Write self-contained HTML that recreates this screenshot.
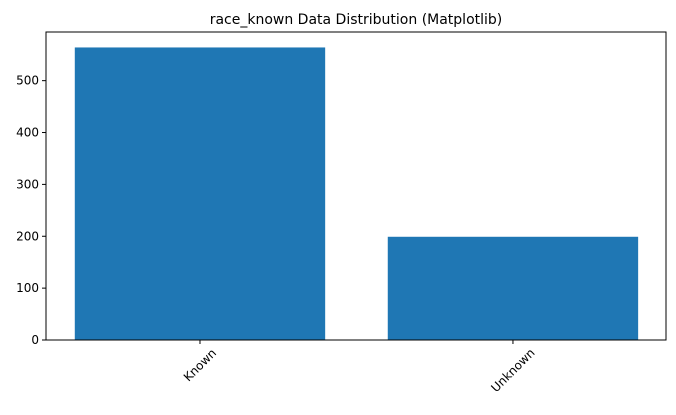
<!DOCTYPE html>
<html><head><meta charset="utf-8"><style>body{margin:0;background:#fff}svg{display:block;font-family:"DejaVu Sans","Liberation Sans",sans-serif}</style></head>
<body>
<svg id="chart" width="676" height="415">
<text x="356" y="24" text-anchor="middle" font-size="14" fill="#000">race_known Data Distribution (Matplotlib)</text>
<g id="bars"></g><g id="yaxis"></g><g id="xaxis"></g>
<rect x="46" y="32" width="620" height="308" fill="none" stroke="#000" stroke-width="1"/>
</svg>
<script>
const categories = ["Known", "Unknown"];
const counts = [564, 199];
const yTicks = [0, 100, 200, 300, 400, 500];
const L = 46, R = 666, T = 32, B = 340;
const xMin = -0.492, xMax = 1.489, yMax = 593.8;
const xs = v => L + (v - xMin) / (xMax - xMin) * (R - L);
const ys = v => B - v / yMax * (B - T);
const NS = "http://www.w3.org/2000/svg";
function mk(tag, attrs, parent) { const e = document.createElementNS(NS, tag); for (const k in attrs) e.setAttribute(k, attrs[k]); parent.appendChild(e); return e; }
const gb = document.getElementById('bars'), gy = document.getElementById('yaxis'), gx = document.getElementById('xaxis');
categories.forEach((c, i) => {
  const x0 = xs(i - 0.4), x1 = xs(i + 0.4);
  const r = mk('rect', {x: x0, y: ys(counts[i]), width: x1 - x0, height: B - ys(counts[i]), fill: '#1f77b4'}, gb);
  
  
  const cx = xs(i);
  const t = mk('line', {x1: cx, x2: cx, y1: B, y2: B + 4, stroke: '#000'}, gx);
  
  
  const half = c.length * 3.7 * 0.7071;
  const cy = B + 8 + half + 4;
  const lbl = mk('text', {x: cx, y: cy + 4, 'font-size': 12, 'text-anchor': 'middle', transform: `rotate(-45 ${cx} ${cy})`, fill: '#000'}, gx);
  lbl.textContent = c;
  
  
});
yTicks.forEach(v => {
  const y = ys(v);
  const t = mk('line', {x1: L - 4, x2: L, y1: y, y2: y, stroke: '#000'}, gy);
  
  
  const lbl = mk('text', {x: L - 7, y: y + 4, 'font-size': 12, 'text-anchor': 'end', fill: '#000'}, gy);
  lbl.textContent = v;
  
  
});
</script>
</body></html>
